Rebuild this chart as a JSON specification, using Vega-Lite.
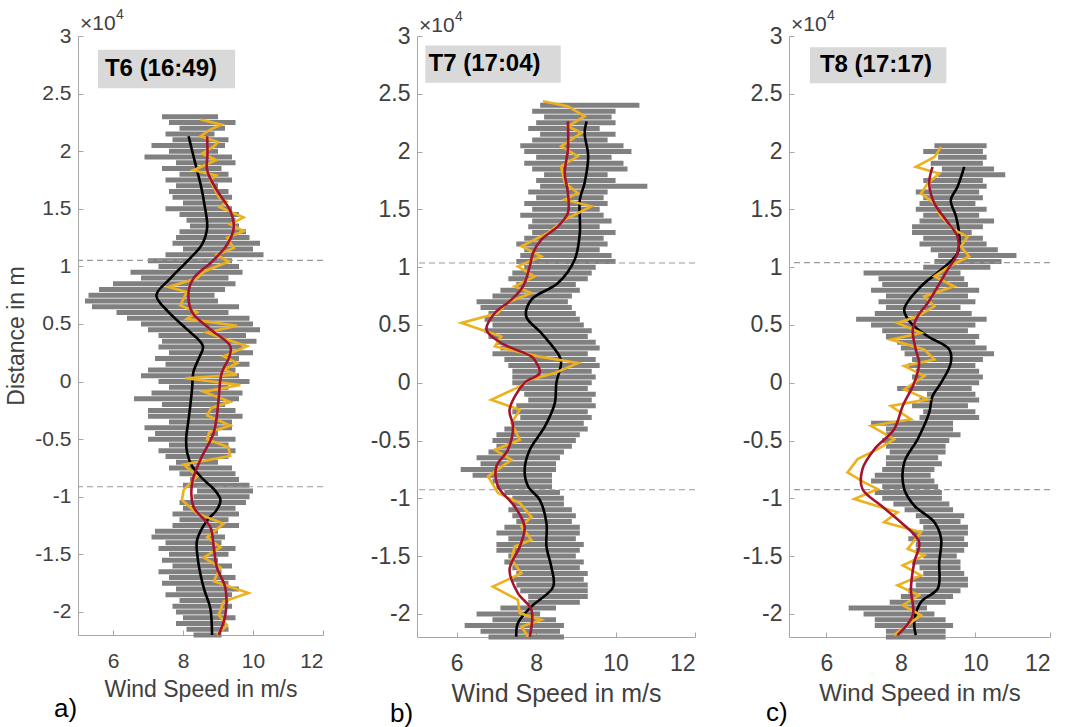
{
"$schema":"https://vega.github.io/schema/vega-lite/v6.json",
"background":"white",
"padding":{"left":5,"top":8,"right":5,"bottom":3},
"bounds":"flush",
"spacing":94,
"config":{"view":{"stroke":null},"axis":{"grid":false,"domainColor":"#a6a6a6","tickColor":"#a6a6a6","labelColor":"#404040","titleColor":"#404040","labelFont":"Liberation Sans","titleFont":"Liberation Sans","titleFontWeight":"normal","tickSize":-5,"domainWidth":1,"tickWidth":1}},
"datasets":{
"a_lab":[{"label":"T6 (16:49)"}],
"b_lab":[{"label":"T7 (17:04)"}],
"c_lab":[{"label":"T8 (17:17)"}],
"a_ref":[{"d":10530},{"d":-9130}],
"b_ref":[{"d":10360},{"d":-9260}],
"c_ref":[{"d":10400},{"d":-9250}],
"a_gray":[{"d":23000,"lo":7.4,"hi":9.0},{"d":22500,"lo":7.6,"hi":9.5},{"d":22000,"lo":7.9,"hi":9.2},{"d":21500,"lo":7.5,"hi":8.9},{"d":21000,"lo":7.7,"hi":9.3},{"d":20500,"lo":7.1,"hi":9.2},{"d":20000,"lo":7.6,"hi":9.0},{"d":19500,"lo":6.9,"hi":9.4},{"d":19000,"lo":7.8,"hi":9.5},{"d":18500,"lo":7.4,"hi":9.1},{"d":18000,"lo":7.9,"hi":9.3},{"d":17500,"lo":7.5,"hi":9.4},{"d":17000,"lo":7.8,"hi":9.0},{"d":16500,"lo":7.6,"hi":9.3},{"d":16000,"lo":7.7,"hi":9.4},{"d":15500,"lo":8.0,"hi":9.2},{"d":15000,"lo":7.5,"hi":9.4},{"d":14500,"lo":7.9,"hi":9.6},{"d":14000,"lo":8.1,"hi":9.5},{"d":13500,"lo":8.2,"hi":9.6},{"d":13000,"lo":7.9,"hi":9.8},{"d":12500,"lo":7.8,"hi":9.9},{"d":12000,"lo":7.7,"hi":10.2},{"d":11500,"lo":8.0,"hi":10.0},{"d":11000,"lo":7.5,"hi":10.3},{"d":10500,"lo":7.0,"hi":9.4},{"d":10000,"lo":7.3,"hi":9.6},{"d":9500,"lo":6.5,"hi":9.7},{"d":9000,"lo":6.8,"hi":9.3},{"d":8500,"lo":6.0,"hi":9.5},{"d":8000,"lo":5.6,"hi":9.2},{"d":7500,"lo":5.3,"hi":8.9},{"d":7000,"lo":5.2,"hi":9.0},{"d":6500,"lo":5.4,"hi":9.6},{"d":6000,"lo":6.1,"hi":9.3},{"d":5500,"lo":6.4,"hi":9.9},{"d":5000,"lo":6.8,"hi":10.0},{"d":4500,"lo":7.0,"hi":10.2},{"d":4000,"lo":7.3,"hi":9.8},{"d":3500,"lo":7.4,"hi":10.1},{"d":3000,"lo":7.3,"hi":9.7},{"d":2500,"lo":7.6,"hi":10.0},{"d":2000,"lo":7.2,"hi":9.6},{"d":1500,"lo":7.5,"hi":9.9},{"d":1000,"lo":7.0,"hi":9.5},{"d":500,"lo":6.8,"hi":9.6},{"d":0,"lo":7.3,"hi":9.9},{"d":-500,"lo":7.6,"hi":9.3},{"d":-1000,"lo":7.1,"hi":9.7},{"d":-1500,"lo":6.6,"hi":9.6},{"d":-2000,"lo":7.4,"hi":9.2},{"d":-2500,"lo":7.0,"hi":9.5},{"d":-3000,"lo":7.0,"hi":9.7},{"d":-3500,"lo":7.6,"hi":9.4},{"d":-4000,"lo":6.9,"hi":9.4},{"d":-4500,"lo":7.2,"hi":9.0},{"d":-5000,"lo":7.0,"hi":9.5},{"d":-5500,"lo":7.6,"hi":9.3},{"d":-6000,"lo":7.3,"hi":9.5},{"d":-6500,"lo":7.5,"hi":9.3},{"d":-7000,"lo":7.8,"hi":9.0},{"d":-7500,"lo":7.6,"hi":9.4},{"d":-8000,"lo":7.9,"hi":9.5},{"d":-8500,"lo":8.2,"hi":9.6},{"d":-9000,"lo":8.0,"hi":9.9},{"d":-9500,"lo":8.4,"hi":10.0},{"d":-10000,"lo":8.3,"hi":9.9},{"d":-10500,"lo":7.9,"hi":9.8},{"d":-11000,"lo":8.0,"hi":9.5},{"d":-11500,"lo":7.7,"hi":9.6},{"d":-12000,"lo":7.9,"hi":9.3},{"d":-12500,"lo":7.7,"hi":9.6},{"d":-13000,"lo":7.2,"hi":9.0},{"d":-13500,"lo":7.1,"hi":9.2},{"d":-14000,"lo":7.5,"hi":9.1},{"d":-14500,"lo":7.3,"hi":9.5},{"d":-15000,"lo":7.6,"hi":9.3},{"d":-15500,"lo":7.4,"hi":9.0},{"d":-16000,"lo":7.7,"hi":9.4},{"d":-16500,"lo":7.3,"hi":9.1},{"d":-17000,"lo":7.6,"hi":9.5},{"d":-17500,"lo":7.4,"hi":9.3},{"d":-18000,"lo":7.8,"hi":9.6},{"d":-18500,"lo":7.5,"hi":9.4},{"d":-19000,"lo":7.9,"hi":9.3},{"d":-19500,"lo":7.7,"hi":9.4},{"d":-20000,"lo":7.8,"hi":9.2},{"d":-20500,"lo":8.0,"hi":9.5},{"d":-21000,"lo":7.8,"hi":9.2},{"d":-21500,"lo":8.1,"hi":9.3},{"d":-22000,"lo":8.3,"hi":9.1}],
"a_k":[{"d":21300,"v":8.16},{"d":19800,"v":8.28},{"d":18350,"v":8.40},{"d":16900,"v":8.52},{"d":15420,"v":8.61},{"d":13360,"v":8.69},{"d":11890,"v":8.54},{"d":10420,"v":8.11},{"d":8960,"v":7.64},{"d":7490,"v":7.24},{"d":6020,"v":7.59},{"d":4550,"v":8.11},{"d":3080,"v":8.57},{"d":2000,"v":8.45},{"d":880,"v":8.30},{"d":-600,"v":8.26},{"d":-2050,"v":8.21},{"d":-3500,"v":8.15},{"d":-5000,"v":8.09},{"d":-6200,"v":8.12},{"d":-7340,"v":8.26},{"d":-8520,"v":8.59},{"d":-9400,"v":8.90},{"d":-10280,"v":9.07},{"d":-11200,"v":8.95},{"d":-12040,"v":8.69},{"d":-13800,"v":8.40},{"d":-15300,"v":8.42},{"d":-16740,"v":8.50},{"d":-18200,"v":8.62},{"d":-19670,"v":8.78},{"d":-22000,"v":8.83}],
"a_r":[{"d":21300,"v":8.69},{"d":19800,"v":8.70},{"d":18350,"v":8.69},{"d":16590,"v":8.97},{"d":14830,"v":9.35},{"d":13360,"v":9.45},{"d":11890,"v":9.26},{"d":10420,"v":8.83},{"d":8960,"v":8.30},{"d":7780,"v":8.16},{"d":6020,"v":8.26},{"d":4550,"v":8.78},{"d":3080,"v":9.35},{"d":2200,"v":9.33},{"d":880,"v":9.12},{"d":0,"v":9.06},{"d":-1470,"v":9.02},{"d":-4410,"v":8.88},{"d":-6760,"v":8.50},{"d":-8810,"v":8.26},{"d":-10870,"v":8.30},{"d":-12630,"v":8.78},{"d":-14400,"v":8.88},{"d":-16150,"v":8.97},{"d":-17910,"v":9.21},{"d":-20260,"v":9.21},{"d":-22000,"v":9.02}],
"a_y":[{"d":22760,"v":8.50},{"d":22300,"v":9.10},{"d":21880,"v":8.78},{"d":21300,"v":8.50},{"d":20800,"v":9.00},{"d":20410,"v":8.88},{"d":19800,"v":8.55},{"d":19230,"v":8.95},{"d":18350,"v":8.30},{"d":17900,"v":8.95},{"d":17470,"v":8.78},{"d":16010,"v":9.02},{"d":15600,"v":9.25},{"d":15130,"v":9.05},{"d":14250,"v":9.73},{"d":13660,"v":9.35},{"d":13070,"v":9.73},{"d":12480,"v":9.26},{"d":11600,"v":9.45},{"d":11010,"v":8.97},{"d":10420,"v":9.30},{"d":9540,"v":8.59},{"d":8960,"v":8.40},{"d":8220,"v":7.59},{"d":7780,"v":8.11},{"d":6610,"v":7.92},{"d":6020,"v":8.40},{"d":5440,"v":8.11},{"d":4850,"v":9.54},{"d":4260,"v":8.68},{"d":3700,"v":9.20},{"d":3080,"v":9.83},{"d":2200,"v":9.16},{"d":1600,"v":9.55},{"d":1030,"v":9.16},{"d":590,"v":9.54},{"d":290,"v":8.07},{"d":-290,"v":9.64},{"d":-880,"v":8.59},{"d":-1760,"v":9.35},{"d":-2300,"v":8.80},{"d":-2940,"v":8.69},{"d":-3820,"v":9.35},{"d":-4400,"v":8.75},{"d":-5000,"v":8.69},{"d":-5700,"v":9.30},{"d":-6460,"v":9.35},{"d":-7200,"v":8.02},{"d":-8220,"v":8.40},{"d":-9400,"v":8.02},{"d":-10280,"v":7.97},{"d":-11450,"v":8.40},{"d":-12330,"v":9.16},{"d":-13510,"v":8.69},{"d":-14390,"v":9.07},{"d":-15270,"v":8.59},{"d":-16150,"v":9.07},{"d":-17330,"v":8.88},{"d":-18350,"v":9.87},{"d":-19090,"v":9.16},{"d":-20260,"v":9.02},{"d":-21150,"v":9.26},{"d":-22000,"v":8.97}],
"b_gray":[{"d":24000,"lo":8.1,"hi":10.6},{"d":23500,"lo":7.9,"hi":10.0},{"d":23000,"lo":8.2,"hi":9.9},{"d":22500,"lo":8.0,"hi":10.0},{"d":22000,"lo":7.8,"hi":9.6},{"d":21500,"lo":8.1,"hi":10.0},{"d":21000,"lo":7.9,"hi":9.8},{"d":20500,"lo":7.6,"hi":10.2},{"d":20000,"lo":7.7,"hi":10.4},{"d":19500,"lo":8.0,"hi":9.9},{"d":19000,"lo":7.7,"hi":10.2},{"d":18500,"lo":7.9,"hi":10.3},{"d":18000,"lo":8.2,"hi":9.8},{"d":17500,"lo":8.0,"hi":10.0},{"d":17000,"lo":8.1,"hi":10.8},{"d":16500,"lo":7.8,"hi":9.8},{"d":16000,"lo":8.0,"hi":9.7},{"d":15500,"lo":7.7,"hi":9.8},{"d":15000,"lo":7.9,"hi":9.6},{"d":14500,"lo":7.6,"hi":9.7},{"d":14000,"lo":7.9,"hi":9.9},{"d":13500,"lo":7.8,"hi":9.6},{"d":13000,"lo":7.9,"hi":10.0},{"d":12500,"lo":7.7,"hi":9.7},{"d":12000,"lo":7.5,"hi":9.8},{"d":11500,"lo":7.7,"hi":9.6},{"d":11000,"lo":7.6,"hi":9.9},{"d":10500,"lo":7.5,"hi":10.0},{"d":10000,"lo":7.7,"hi":9.5},{"d":9500,"lo":7.4,"hi":9.4},{"d":9000,"lo":7.3,"hi":9.3},{"d":8500,"lo":7.5,"hi":9.0},{"d":8000,"lo":7.1,"hi":9.1},{"d":7500,"lo":6.9,"hi":8.9},{"d":7000,"lo":6.5,"hi":8.8},{"d":6500,"lo":6.6,"hi":8.9},{"d":6000,"lo":6.8,"hi":9.0},{"d":5500,"lo":6.7,"hi":9.1},{"d":5000,"lo":6.9,"hi":9.2},{"d":4500,"lo":6.7,"hi":9.4},{"d":4000,"lo":6.8,"hi":9.3},{"d":3500,"lo":7.0,"hi":9.5},{"d":3000,"lo":7.1,"hi":9.6},{"d":2500,"lo":6.9,"hi":9.3},{"d":2000,"lo":7.2,"hi":9.5},{"d":1500,"lo":7.3,"hi":9.6},{"d":1000,"lo":7.4,"hi":9.4},{"d":500,"lo":7.4,"hi":9.5},{"d":0,"lo":7.4,"hi":9.4},{"d":-500,"lo":7.6,"hi":9.3},{"d":-1000,"lo":7.7,"hi":9.5},{"d":-1500,"lo":7.8,"hi":9.4},{"d":-2000,"lo":7.5,"hi":9.5},{"d":-2500,"lo":7.4,"hi":9.3},{"d":-3000,"lo":7.6,"hi":9.4},{"d":-3500,"lo":7.4,"hi":9.2},{"d":-4000,"lo":7.2,"hi":9.3},{"d":-4500,"lo":7.0,"hi":9.1},{"d":-5000,"lo":6.9,"hi":9.0},{"d":-5500,"lo":7.0,"hi":8.9},{"d":-6000,"lo":6.8,"hi":8.7},{"d":-6500,"lo":6.5,"hi":8.6},{"d":-7000,"lo":6.6,"hi":8.5},{"d":-7500,"lo":6.1,"hi":8.5},{"d":-8000,"lo":6.4,"hi":8.4},{"d":-8500,"lo":6.9,"hi":8.4},{"d":-9000,"lo":7.0,"hi":8.4},{"d":-9500,"lo":7.2,"hi":8.6},{"d":-10000,"lo":7.4,"hi":8.7},{"d":-10500,"lo":7.4,"hi":8.7},{"d":-11000,"lo":7.3,"hi":8.9},{"d":-11500,"lo":7.4,"hi":9.0},{"d":-12000,"lo":7.5,"hi":8.9},{"d":-12500,"lo":7.2,"hi":9.1},{"d":-13000,"lo":7.0,"hi":9.1},{"d":-13500,"lo":7.3,"hi":9.0},{"d":-14000,"lo":7.0,"hi":9.2},{"d":-14500,"lo":7.0,"hi":9.1},{"d":-15000,"lo":7.3,"hi":9.0},{"d":-15500,"lo":7.2,"hi":9.2},{"d":-16000,"lo":7.4,"hi":9.1},{"d":-16500,"lo":7.5,"hi":9.3},{"d":-17000,"lo":7.4,"hi":9.2},{"d":-17500,"lo":7.5,"hi":9.3},{"d":-18000,"lo":7.6,"hi":9.3},{"d":-18500,"lo":7.8,"hi":9.3},{"d":-19000,"lo":7.8,"hi":9.1},{"d":-19500,"lo":7.1,"hi":8.5},{"d":-20000,"lo":6.5,"hi":8.1},{"d":-20500,"lo":6.9,"hi":8.5},{"d":-21000,"lo":6.2,"hi":8.7},{"d":-21500,"lo":6.6,"hi":8.6},{"d":-22000,"lo":6.8,"hi":8.7}],
"b_k":[{"d":22620,"v":9.27},{"d":21620,"v":9.22},{"d":19590,"v":9.31},{"d":17290,"v":9.22},{"d":15840,"v":9.10},{"d":12960,"v":9.10},{"d":10650,"v":8.97},{"d":8630,"v":8.55},{"d":7190,"v":7.88},{"d":5740,"v":7.75},{"d":4300,"v":8.13},{"d":2280,"v":8.59},{"d":1700,"v":8.63},{"d":0,"v":8.51},{"d":-1760,"v":8.47},{"d":-3780,"v":8.22},{"d":-5800,"v":7.84},{"d":-7530,"v":7.71},{"d":-8980,"v":7.80},{"d":-10130,"v":8.09},{"d":-12150,"v":8.26},{"d":-14170,"v":8.26},{"d":-15900,"v":8.38},{"d":-17640,"v":8.43},{"d":-19370,"v":7.88},{"d":-20810,"v":7.54},{"d":-21970,"v":7.50}],
"b_r":[{"d":22620,"v":8.80},{"d":20170,"v":8.80},{"d":18160,"v":8.72},{"d":16420,"v":8.80},{"d":14690,"v":8.80},{"d":13530,"v":8.55},{"d":12380,"v":8.13},{"d":11230,"v":7.92},{"d":10070,"v":7.84},{"d":8340,"v":7.67},{"d":7190,"v":7.38},{"d":6030,"v":6.96},{"d":4590,"v":6.75},{"d":3440,"v":7.12},{"d":2280,"v":7.88},{"d":1990,"v":7.96},{"d":840,"v":8.09},{"d":0,"v":7.71},{"d":-2340,"v":7.33},{"d":-3780,"v":7.42},{"d":-5800,"v":7.29},{"d":-7240,"v":7.00},{"d":-8980,"v":7.04},{"d":-10710,"v":7.46},{"d":-12440,"v":7.71},{"d":-14170,"v":7.59},{"d":-16190,"v":7.33},{"d":-18210,"v":7.54},{"d":-19650,"v":7.88},{"d":-21970,"v":7.84}],
"b_y":[{"d":24350,"v":8.17},{"d":23920,"v":8.80},{"d":23060,"v":9.22},{"d":22190,"v":8.80},{"d":21620,"v":9.14},{"d":20460,"v":8.63},{"d":19590,"v":9.05},{"d":18730,"v":8.63},{"d":17290,"v":8.72},{"d":16420,"v":9.05},{"d":15840,"v":8.72},{"d":15260,"v":9.39},{"d":14110,"v":8.72},{"d":12960,"v":8.30},{"d":12380,"v":7.96},{"d":11800,"v":7.63},{"d":10940,"v":8.13},{"d":10070,"v":7.54},{"d":9200,"v":7.96},{"d":8340,"v":7.46},{"d":7770,"v":7.88},{"d":6900,"v":7.25},{"d":6030,"v":7.04},{"d":5170,"v":6.12},{"d":4590,"v":6.62},{"d":4010,"v":7.12},{"d":3140,"v":6.96},{"d":2280,"v":8.05},{"d":1700,"v":9.05},{"d":840,"v":8.47},{"d":260,"v":7.84},{"d":-320,"v":7.59},{"d":-1470,"v":6.87},{"d":-2340,"v":7.59},{"d":-3490,"v":7.38},{"d":-4940,"v":7.59},{"d":-5800,"v":6.96},{"d":-6670,"v":7.38},{"d":-8110,"v":6.79},{"d":-9550,"v":7.04},{"d":-10420,"v":7.59},{"d":-11580,"v":7.88},{"d":-12440,"v":7.63},{"d":-13590,"v":7.88},{"d":-14170,"v":7.46},{"d":-15320,"v":7.38},{"d":-16480,"v":7.63},{"d":-17640,"v":6.91},{"d":-18790,"v":7.54},{"d":-19940,"v":7.59},{"d":-20520,"v":8.13},{"d":-21100,"v":7.63},{"d":-21970,"v":7.80}],
"c_gray":[{"d":20500,"lo":8.9,"hi":10.3},{"d":20000,"lo":8.6,"hi":10.2},{"d":19500,"lo":9.0,"hi":10.3},{"d":19000,"lo":8.8,"hi":10.2},{"d":18500,"lo":9.1,"hi":10.5},{"d":18000,"lo":9.0,"hi":10.8},{"d":17500,"lo":8.6,"hi":10.2},{"d":17000,"lo":8.8,"hi":10.3},{"d":16500,"lo":8.4,"hi":10.1},{"d":16000,"lo":8.6,"hi":10.2},{"d":15500,"lo":8.5,"hi":10.0},{"d":15000,"lo":8.4,"hi":10.3},{"d":14500,"lo":8.6,"hi":10.1},{"d":14000,"lo":8.5,"hi":10.5},{"d":13500,"lo":8.3,"hi":10.2},{"d":13000,"lo":8.3,"hi":9.9},{"d":12500,"lo":8.6,"hi":10.2},{"d":12000,"lo":8.5,"hi":10.3},{"d":11500,"lo":8.8,"hi":10.6},{"d":11000,"lo":9.0,"hi":11.1},{"d":10500,"lo":8.9,"hi":10.7},{"d":10000,"lo":8.6,"hi":10.4},{"d":9500,"lo":7.0,"hi":9.6},{"d":9000,"lo":7.4,"hi":9.7},{"d":8500,"lo":7.5,"hi":9.8},{"d":8000,"lo":7.2,"hi":10.1},{"d":7500,"lo":7.6,"hi":9.8},{"d":7000,"lo":7.4,"hi":10.0},{"d":6500,"lo":7.6,"hi":9.6},{"d":6000,"lo":7.3,"hi":9.9},{"d":5500,"lo":6.8,"hi":10.3},{"d":5000,"lo":7.2,"hi":10.0},{"d":4500,"lo":7.5,"hi":9.8},{"d":4000,"lo":7.6,"hi":10.1},{"d":3500,"lo":7.9,"hi":10.0},{"d":3000,"lo":8.0,"hi":10.3},{"d":2500,"lo":8.1,"hi":10.5},{"d":2000,"lo":8.3,"hi":10.2},{"d":1500,"lo":8.2,"hi":10.0},{"d":1000,"lo":8.4,"hi":10.1},{"d":500,"lo":8.3,"hi":10.2},{"d":0,"lo":8.4,"hi":10.1},{"d":-500,"lo":7.9,"hi":9.9},{"d":-1000,"lo":8.7,"hi":10.0},{"d":-1500,"lo":8.5,"hi":10.1},{"d":-2000,"lo":8.3,"hi":9.8},{"d":-2500,"lo":8.6,"hi":10.0},{"d":-3000,"lo":8.5,"hi":10.1},{"d":-3500,"lo":7.2,"hi":9.4},{"d":-4000,"lo":7.6,"hi":9.4},{"d":-4500,"lo":7.6,"hi":9.6},{"d":-5000,"lo":7.5,"hi":9.3},{"d":-5500,"lo":7.6,"hi":9.2},{"d":-6000,"lo":7.7,"hi":9.2},{"d":-6500,"lo":7.6,"hi":9.0},{"d":-7000,"lo":7.6,"hi":9.1},{"d":-7500,"lo":7.5,"hi":8.9},{"d":-8000,"lo":7.3,"hi":8.8},{"d":-8500,"lo":7.2,"hi":8.9},{"d":-9000,"lo":7.5,"hi":9.0},{"d":-9500,"lo":7.3,"hi":9.1},{"d":-10000,"lo":7.5,"hi":9.1},{"d":-10500,"lo":7.8,"hi":9.3},{"d":-11000,"lo":8.1,"hi":9.4},{"d":-11500,"lo":8.4,"hi":9.7},{"d":-12000,"lo":8.5,"hi":9.6},{"d":-12500,"lo":8.6,"hi":9.8},{"d":-13000,"lo":8.3,"hi":9.8},{"d":-13500,"lo":8.2,"hi":9.7},{"d":-14000,"lo":8.4,"hi":9.8},{"d":-14500,"lo":8.4,"hi":9.7},{"d":-15000,"lo":8.6,"hi":9.5},{"d":-15500,"lo":8.3,"hi":9.6},{"d":-16000,"lo":8.5,"hi":9.6},{"d":-16500,"lo":8.6,"hi":9.7},{"d":-17000,"lo":8.3,"hi":9.8},{"d":-17500,"lo":8.4,"hi":9.8},{"d":-18000,"lo":8.2,"hi":9.6},{"d":-18500,"lo":8.0,"hi":9.4},{"d":-19000,"lo":7.7,"hi":9.2},{"d":-19500,"lo":6.6,"hi":8.7},{"d":-20000,"lo":7.0,"hi":8.9},{"d":-20500,"lo":7.3,"hi":9.2},{"d":-21000,"lo":7.3,"hi":9.4},{"d":-21500,"lo":7.6,"hi":9.2},{"d":-22000,"lo":7.6,"hi":9.2}],
"c_k":[{"d":18680,"v":9.70},{"d":16960,"v":9.52},{"d":15800,"v":9.34},{"d":14370,"v":9.48},{"d":12640,"v":9.57},{"d":11210,"v":9.52},{"d":9770,"v":9.08},{"d":8340,"v":8.54},{"d":6320,"v":8.09},{"d":5170,"v":8.27},{"d":4020,"v":8.72},{"d":2870,"v":9.30},{"d":1720,"v":9.34},{"d":0,"v":9.08},{"d":-1150,"v":8.85},{"d":-2590,"v":8.76},{"d":-4890,"v":8.45},{"d":-6900,"v":8.09},{"d":-9200,"v":8.09},{"d":-10630,"v":8.36},{"d":-12070,"v":8.90},{"d":-13510,"v":9.08},{"d":-15520,"v":9.03},{"d":-17820,"v":8.99},{"d":-18970,"v":8.54},{"d":-20690,"v":8.36},{"d":-21840,"v":8.40}],
"c_r":[{"d":18680,"v":8.85},{"d":17240,"v":8.76},{"d":15520,"v":8.90},{"d":14080,"v":9.21},{"d":12640,"v":9.52},{"d":11210,"v":9.52},{"d":9770,"v":9.25},{"d":8340,"v":8.99},{"d":6900,"v":8.72},{"d":5750,"v":8.45},{"d":4600,"v":8.32},{"d":2870,"v":8.40},{"d":1720,"v":8.49},{"d":0,"v":8.36},{"d":-2010,"v":8.05},{"d":-4020,"v":7.82},{"d":-5750,"v":7.29},{"d":-7470,"v":6.97},{"d":-9200,"v":6.97},{"d":-10630,"v":7.47},{"d":-12070,"v":8.00},{"d":-13790,"v":8.49},{"d":-15520,"v":8.36},{"d":-17820,"v":8.27},{"d":-20110,"v":8.32},{"d":-21840,"v":7.91}],
"c_y":[{"d":20400,"v":9.08},{"d":19540,"v":8.90},{"d":18680,"v":8.40},{"d":18100,"v":9.03},{"d":17240,"v":8.72},{"d":16380,"v":8.54},{"d":15520,"v":8.90},{"d":14370,"v":9.08},{"d":13220,"v":9.43},{"d":12640,"v":9.79},{"d":11780,"v":9.61},{"d":10920,"v":9.83},{"d":10060,"v":9.30},{"d":9200,"v":8.90},{"d":8340,"v":9.43},{"d":7470,"v":8.63},{"d":6610,"v":8.90},{"d":5750,"v":8.45},{"d":5170,"v":7.91},{"d":4310,"v":8.54},{"d":3730,"v":7.73},{"d":2870,"v":8.63},{"d":2010,"v":8.90},{"d":1440,"v":8.09},{"d":580,"v":8.63},{"d":-580,"v":8.09},{"d":-1440,"v":8.72},{"d":-2010,"v":7.73},{"d":-3160,"v":8.27},{"d":-3730,"v":7.20},{"d":-4890,"v":7.82},{"d":-5750,"v":7.38},{"d":-6610,"v":6.84},{"d":-7760,"v":6.57},{"d":-8620,"v":7.02},{"d":-9200,"v":7.38},{"d":-10060,"v":6.75},{"d":-11210,"v":7.91},{"d":-12070,"v":7.55},{"d":-12930,"v":8.54},{"d":-14370,"v":8.18},{"d":-14940,"v":8.63},{"d":-15800,"v":8.05},{"d":-16670,"v":8.54},{"d":-17530,"v":7.91},{"d":-18390,"v":8.49},{"d":-19250,"v":8.05},{"d":-20110,"v":8.54},{"d":-20970,"v":8.18},{"d":-21840,"v":7.82}]
},
"hconcat":[
{"width":245,"height":599,
"title":{"text":"a)","orient":"bottom","anchor":"start","frame":"group","dx":-24,"offset":-5,"fontSize":26,"fontWeight":"normal","font":"Liberation Sans","color":"#000000"},
"layer":[
{"data":{"name":"a_gray"},"mark":{"type":"rule","color":"#808080","strokeWidth":5},
"encoding":{"x":{"field":"lo","type":"quantitative","title":"Wind Speed in m/s","scale":{"domain":[5,12],"nice":false,"zero":false},"axis":{"values":[6,8,10,12],"labelFontSize":21,"titleFontSize":23,"labelPadding":20,"titlePadding":7}},"x2":{"field":"hi"},
"y":{"field":"d","type":"quantitative","title":"Distance in m","scale":{"domain":[-22000,30000],"nice":false,"zero":false},"axis":{"values":[-20000,-15000,-10000,-5000,0,5000,10000,15000,20000,25000,30000],"labelExpr":"datum.value/10000","labelFontSize":21,"titleFontSize":23,"labelPadding":12,"titlePadding":6}}}},
{"data":{"name":"a_ref"},"mark":{"type":"rule","color":"#9a9a9a","strokeDash":[6,4],"strokeWidth":1.2},"encoding":{"y":{"field":"d","type":"quantitative","title":"Distance in m"}}},
{"data":{"name":"a_k"},"mark":{"type":"line","color":"#000000","strokeWidth":2.6,"interpolate":"catmull-rom"},"encoding":{"x":{"field":"v","type":"quantitative","title":"Wind Speed in m/s"},"y":{"field":"d","type":"quantitative","title":"Distance in m"},"order":{"field":"d"}}},
{"data":{"name":"a_y"},"mark":{"type":"line","color":"#EDB120","strokeWidth":2.6},"encoding":{"x":{"field":"v","type":"quantitative","title":"Wind Speed in m/s"},"y":{"field":"d","type":"quantitative","title":"Distance in m"},"order":{"field":"d"}}},
{"data":{"name":"a_r"},"mark":{"type":"line","color":"#A2142F","strokeWidth":2.6,"interpolate":"catmull-rom"},"encoding":{"x":{"field":"v","type":"quantitative","title":"Wind Speed in m/s"},"y":{"field":"d","type":"quantitative","title":"Distance in m"},"order":{"field":"d"}}},
{"data":{"name":"a_lab"},"mark":{"type":"rect","color":"#d9d9d9"},"encoding":{"x":{"datum":5.57},"x2":{"datum":9.49},"y":{"datum":25460},"y2":{"datum":28810}}},
{"data":{"name":"a_lab"},"mark":{"type":"text","font":"Liberation Sans","fontWeight":"bold","fontSize":24,"align":"left","baseline":"middle","color":"#000000"},"encoding":{"x":{"datum":5.77},"y":{"datum":27140},"text":{"field":"label"}}},
{"data":{"name":"a_lab"},"mark":{"type":"text","text":"×10","font":"Liberation Sans","fontSize":21,"align":"left","baseline":"alphabetic","color":"#404040","dx":2,"dy":-6},"encoding":{"x":{"datum":5},"y":{"datum":30000}}},
{"data":{"name":"a_lab"},"mark":{"type":"text","text":"4","font":"Liberation Sans","fontSize":14,"align":"left","baseline":"alphabetic","color":"#404040","dx":38,"dy":-17},"encoding":{"x":{"datum":5},"y":{"datum":30000}}}
]},
{"width":278,"height":601,
"title":{"text":"b)","orient":"bottom","anchor":"start","frame":"group","dx":-27,"offset":-5,"fontSize":26,"fontWeight":"normal","font":"Liberation Sans","color":"#000000"},
"layer":[
{"data":{"name":"b_gray"},"mark":{"type":"rule","color":"#808080","strokeWidth":5},
"encoding":{"x":{"field":"lo","type":"quantitative","title":"Wind Speed in m/s","scale":{"domain":[5,12],"nice":false,"zero":false},"axis":{"values":[6,8,10,12],"labelFontSize":23,"titleFontSize":25,"labelPadding":20,"titlePadding":6}},"x2":{"field":"hi"},
"y":{"field":"d","type":"quantitative","title":null,"scale":{"domain":[-22000,30000],"nice":false,"zero":false},"axis":{"title":null,"values":[-20000,-15000,-10000,-5000,0,5000,10000,15000,20000,25000,30000],"labelExpr":"datum.value/10000","labelFontSize":23,"labelPadding":12}}}},
{"data":{"name":"b_ref"},"mark":{"type":"rule","color":"#9a9a9a","strokeDash":[6,4],"strokeWidth":1.2},"encoding":{"y":{"field":"d","type":"quantitative","title":null}}},
{"data":{"name":"b_k"},"mark":{"type":"line","color":"#000000","strokeWidth":2.6,"interpolate":"catmull-rom"},"encoding":{"x":{"field":"v","type":"quantitative","title":"Wind Speed in m/s"},"y":{"field":"d","type":"quantitative","title":null},"order":{"field":"d"}}},
{"data":{"name":"b_y"},"mark":{"type":"line","color":"#EDB120","strokeWidth":2.6},"encoding":{"x":{"field":"v","type":"quantitative","title":"Wind Speed in m/s"},"y":{"field":"d","type":"quantitative","title":null},"order":{"field":"d"}}},
{"data":{"name":"b_r"},"mark":{"type":"line","color":"#A2142F","strokeWidth":2.6,"interpolate":"catmull-rom"},"encoding":{"x":{"field":"v","type":"quantitative","title":"Wind Speed in m/s"},"y":{"field":"d","type":"quantitative","title":null},"order":{"field":"d"}}},
{"data":{"name":"b_lab"},"mark":{"type":"rect","color":"#d9d9d9"},"encoding":{"x":{"datum":5.21},"x2":{"datum":8.62},"y":{"datum":25950},"y2":{"datum":29180}}},
{"data":{"name":"b_lab"},"mark":{"type":"text","font":"Liberation Sans","fontWeight":"bold","fontSize":24,"align":"left","baseline":"middle","color":"#000000"},"encoding":{"x":{"datum":5.29},"y":{"datum":27560},"text":{"field":"label"}}},
{"data":{"name":"b_lab"},"mark":{"type":"text","text":"×10","font":"Liberation Sans","fontSize":21,"align":"left","baseline":"alphabetic","color":"#404040","dx":2,"dy":-4},"encoding":{"x":{"datum":5},"y":{"datum":30000}}},
{"data":{"name":"b_lab"},"mark":{"type":"text","text":"4","font":"Liberation Sans","fontSize":14,"align":"left","baseline":"alphabetic","color":"#404040","dx":38,"dy":-15},"encoding":{"x":{"datum":5},"y":{"datum":30000}}}
]},
{"width":261,"height":601,
"title":{"text":"c)","orient":"bottom","anchor":"start","frame":"group","dx":-23,"offset":-5,"fontSize":26,"fontWeight":"normal","font":"Liberation Sans","color":"#000000"},
"layer":[
{"data":{"name":"c_gray"},"mark":{"type":"rule","color":"#808080","strokeWidth":5},
"encoding":{"x":{"field":"lo","type":"quantitative","title":"Wind Speed in m/s","scale":{"domain":[5,12],"nice":false,"zero":false},"axis":{"values":[6,8,10,12],"labelFontSize":23,"titleFontSize":24,"labelPadding":20,"titlePadding":6}},"x2":{"field":"hi"},
"y":{"field":"d","type":"quantitative","title":null,"scale":{"domain":[-22000,30000],"nice":false,"zero":false},"axis":{"title":null,"values":[-20000,-15000,-10000,-5000,0,5000,10000,15000,20000,25000,30000],"labelExpr":"datum.value/10000","labelFontSize":23,"labelPadding":12}}}},
{"data":{"name":"c_ref"},"mark":{"type":"rule","color":"#9a9a9a","strokeDash":[6,4],"strokeWidth":1.2},"encoding":{"y":{"field":"d","type":"quantitative","title":null}}},
{"data":{"name":"c_k"},"mark":{"type":"line","color":"#000000","strokeWidth":2.6,"interpolate":"catmull-rom"},"encoding":{"x":{"field":"v","type":"quantitative","title":"Wind Speed in m/s"},"y":{"field":"d","type":"quantitative","title":null},"order":{"field":"d"}}},
{"data":{"name":"c_y"},"mark":{"type":"line","color":"#EDB120","strokeWidth":2.6},"encoding":{"x":{"field":"v","type":"quantitative","title":"Wind Speed in m/s"},"y":{"field":"d","type":"quantitative","title":null},"order":{"field":"d"}}},
{"data":{"name":"c_r"},"mark":{"type":"line","color":"#A2142F","strokeWidth":2.6,"interpolate":"catmull-rom"},"encoding":{"x":{"field":"v","type":"quantitative","title":"Wind Speed in m/s"},"y":{"field":"d","type":"quantitative","title":null},"order":{"field":"d"}}},
{"data":{"name":"c_lab"},"mark":{"type":"rect","color":"#d9d9d9"},"encoding":{"x":{"datum":5.56},"x2":{"datum":9.22},"y":{"datum":25920},"y2":{"datum":29030}}},
{"data":{"name":"c_lab"},"mark":{"type":"text","font":"Liberation Sans","fontWeight":"bold","fontSize":24,"align":"left","baseline":"middle","color":"#000000"},"encoding":{"x":{"datum":5.83},"y":{"datum":27480},"text":{"field":"label"}}},
{"data":{"name":"c_lab"},"mark":{"type":"text","text":"×10","font":"Liberation Sans","fontSize":21,"align":"left","baseline":"alphabetic","color":"#404040","dx":2,"dy":-5},"encoding":{"x":{"datum":5},"y":{"datum":30000}}},
{"data":{"name":"c_lab"},"mark":{"type":"text","text":"4","font":"Liberation Sans","fontSize":14,"align":"left","baseline":"alphabetic","color":"#404040","dx":38,"dy":-16},"encoding":{"x":{"datum":5},"y":{"datum":30000}}}
]}
]
}
